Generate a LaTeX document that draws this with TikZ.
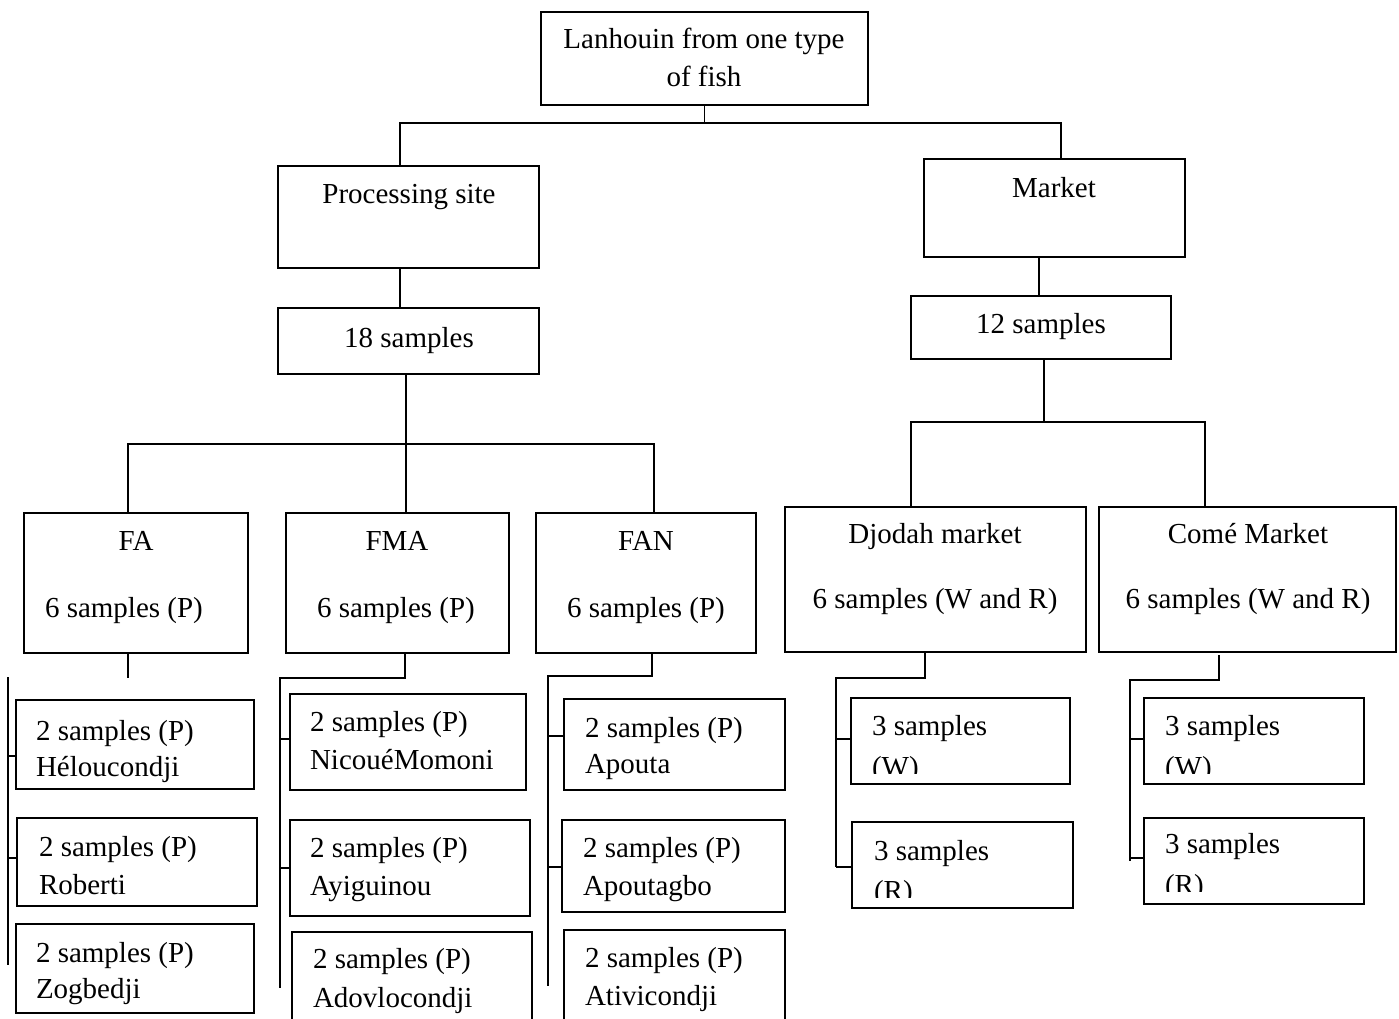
\documentclass[tikz,border=0pt]{standalone}
\usepackage{fontspec}
\setmainfont{Liberation Serif}
\usetikzlibrary{fit}
\begin{document}
\begin{tikzpicture}[x=1pt,y=-1pt,
  box/.style={draw, line width=1.9pt, inner sep=0pt, outer sep=0pt, rectangle},
  txt/.style={font=\fontsize{29}{35}\selectfont, inner sep=0pt, outer sep=0pt},
  lnk/.style={line width=1.6pt}]
\useasboundingbox (0,0) rectangle (1399,1019);
\fill[white] (0,0) rectangle (1399,1019);
\clip (0,0) rectangle (1399,1019);

% ---------- boxes ----------
\node[box, fit={(541,12) (868,105)}] (top) {};
\node[box, fit={(278,166) (539,268)}] (proc) {};
\node[box, fit={(278,308) (539,374)}] (s18) {};
\node[box, fit={(924,159) (1185,257)}] (mkt) {};
\node[box, fit={(911,296) (1171,359)}] (s12) {};
\node[box, fit={(24,513) (248,653)}] (fa) {};
\node[box, fit={(286,513) (509,653)}] (fma) {};
\node[box, fit={(536,513) (756,653)}] (fan) {};
\node[box, fit={(785,507) (1086,652)}] (djo) {};
\node[box, fit={(1099,507) (1396,652)}] (come) {};
\node[box, fit={(16,700) (254,789)}] (fa1) {};
\node[box, fit={(17,818) (257,906)}] (fa2) {};
\node[box, fit={(16,924) (254,1013)}] (fa3) {};
\node[box, fit={(290,694) (526,790)}] (fma1) {};
\node[box, fit={(290,820) (530,916)}] (fma2) {};
\node[box, fit={(292,932) (532,1040)}] (fma3) {};
\node[box, fit={(564,699) (785,790)}] (fan1) {};
\node[box, fit={(562,820) (785,912)}] (fan2) {};
\node[box, fit={(564,930) (785,1040)}] (fan3) {};
\node[box, fit={(851,698) (1070,784)}] (djw) {};
\node[box, fit={(852,822) (1073,908)}] (djr) {};
\node[box, fit={(1144,698) (1364,784)}] (cow) {};
\node[box, fit={(1144,818) (1364,904)}] (cor) {};

% ---------- texts ----------
\node[txt, anchor=base] (ttop1) at (704,49) {Lanhouin from one type};
\node[txt, anchor=base] (ttop2) at (704,87) {of fish};
\node[txt, anchor=base] (tproc) at (409,204) {Processing site};
\node[txt, anchor=base] (ts18) at (409,347) {18 samples};
\node[txt, anchor=base] (tmkt) at (1054,197) {Market};
\node[txt, anchor=base] (ts12) at (1041,333) {12 samples};

\node[txt, anchor=base] (tfa1) at (136,550) {FA};
\node[txt, anchor=base west] (tfa2) at (45,617) {6 samples (P)};
\node[txt, anchor=base] (tfma1) at (397,550) {FMA};
\node[txt, anchor=base west] (tfma2) at (317,617) {6 samples (P)};
\node[txt, anchor=base] (tfan1) at (646,550) {FAN};
\node[txt, anchor=base west] (tfan2) at (567,617) {6 samples (P)};

\node[txt, anchor=base] (tdjo1) at (935,543) {Djodah market};
\node[txt, anchor=base] (tdjo2) at (935,608) {6 samples (W and R)};
\node[txt, anchor=base] (tcome1) at (1248,543) {Comé Market};
\node[txt, anchor=base] (tcome2) at (1248,608) {6 samples (W and R)};

\node[txt, anchor=base west] (tfa1a) at (36,740) {2 samples (P)};
\node[txt, anchor=base west] (tfa1b) at (36,776) {Héloucondji};
\node[txt, anchor=base west] (tfa2a) at (39,856) {2 samples (P)};
\node[txt, anchor=base west] (tfa2b) at (39,894) {Roberti};
\node[txt, anchor=base west] (tfa3a) at (36,962) {2 samples (P)};
\node[txt, anchor=base west] (tfa3b) at (36,998) {Zogbedji};

\node[txt, anchor=base west] (tfma1a) at (310,731) {2 samples (P)};
\node[txt, anchor=base west] (tfma1b) at (310,769) {NicouéMomoni};
\node[txt, anchor=base west] (tfma2a) at (310,857) {2 samples (P)};
\node[txt, anchor=base west] (tfma2b) at (310,895) {Ayiguinou};
\node[txt, anchor=base west] (tfma3a) at (313,968) {2 samples (P)};
\node[txt, anchor=base west] (tfma3b) at (313,1007) {Adovlocondji};

\node[txt, anchor=base west] (tfan1a) at (585,737) {2 samples (P)};
\node[txt, anchor=base west] (tfan1b) at (585,773) {Apouta};
\node[txt, anchor=base west] (tfan2a) at (583,857) {2 samples (P)};
\node[txt, anchor=base west] (tfan2b) at (583,895) {Apoutagbo};
\node[txt, anchor=base west] (tfan3a) at (585,967) {2 samples (P)};
\node[txt, anchor=base west] (tfan3b) at (585,1005) {Ativicondji};

\node[txt, anchor=base west] (tdjwa) at (872,735) {3 samples};
\begin{scope}
  \clip (855,740) rectangle (1065,773);
  \node[txt, anchor=base west] (tdjwb) at (872,776) {(W)};
\end{scope}
\node[txt, anchor=base west] (tdjra) at (874,860) {3 samples};
\begin{scope}
  \clip (855,865) rectangle (1065,897);
  \node[txt, anchor=base west] (tdjrb) at (874,900) {(R)};
\end{scope}
\node[txt, anchor=base west] (tcowa) at (1165,735) {3 samples};
\begin{scope}
  \clip (1148,740) rectangle (1360,773);
  \node[txt, anchor=base west] (tcowb) at (1165,776) {(W)};
\end{scope}
\node[txt, anchor=base west] (tcora) at (1165,853) {3 samples};
\begin{scope}
  \clip (1148,858) rectangle (1360,891);
  \node[txt, anchor=base west] (tcorb) at (1165,894) {(R)};
\end{scope}

% ---------- connectors ----------
\draw[lnk] (top.south) -- ++(0,18) coordinate (j0);
\draw[lnk] ([xshift=122pt]proc.north west) |- (j0) -| ([xshift=137pt]mkt.north west);
\draw[lnk] ([xshift=122pt]proc.south west) -- ([xshift=122pt]s18.north west);
\draw[lnk] ([xshift=115pt]mkt.south west) -- ([xshift=128pt]s12.north west);

\draw[lnk] ([xshift=128pt]s18.south west) -- ++(0,70) coordinate (j18);
\draw[lnk] ([xshift=104pt]fa.north west) |- (j18) -| ([xshift=118pt]fan.north west);
\draw[lnk] (j18) -- (j18 |- fma.north);

\draw[lnk] ([xshift=133pt]s12.south west) -- ++(0,63) coordinate (j12);
\draw[lnk] ([xshift=126pt]djo.north west) |- (j12) -| ([xshift=106pt]come.north west);

% FA group
\draw[lnk] ([xshift=104pt]fa.south west) -- ++(0,25) coordinate (fastub);
\coordinate (fab1) at (8,677);
\coordinate (fab2) at (8,965);
\draw[lnk] (fab1) -- (fab2);
\draw[lnk] ([yshift=-11.5pt]fa1.west) -- ++(-8,0);
\draw[lnk] ([yshift=4pt]fa2.west) -- ++(-9,0);

% FMA group
\coordinate (fmab) at (280,988);
\draw[lnk] ([xshift=119pt]fma.south west) -- ++(0,25) -| (fmab);
\draw[lnk] ([yshift=3pt]fma1.west) -- ++(-10,0);
\draw[lnk] (fma2.west) -- ++(-10,0);

% FAN group
\coordinate (fanb) at (548,986);
\draw[lnk] ([xshift=116pt]fan.south west) -- ++(0,23) -| (fanb);
\draw[lnk] ([yshift=8.5pt]fan1.west) -- ++(-16,0);
\draw[lnk] ([yshift=-1pt]fan2.west) -- ++(-14,0);

% Djodah group
\coordinate (djb) at (836,867);
\draw[lnk] ([xshift=140pt]djo.south west) -- ++(0,26) -| (djb);
\draw[lnk] ([yshift=2pt]djw.west) -- ++(-15,0);
\draw[lnk] ([yshift=-2pt]djr.west) -- ++(-16,0);

% Come group
\coordinate (cob) at (1130,861);
\draw[lnk] ([xshift=120pt,yshift=-3pt]come.south west) -- ++(0,25) -| (cob);
\draw[lnk] ([yshift=2pt]cow.west) -- ++(-14,0);
\draw[lnk] ([yshift=3pt]cor.west) -- ++(-14,0);
\end{tikzpicture}
\end{document}
